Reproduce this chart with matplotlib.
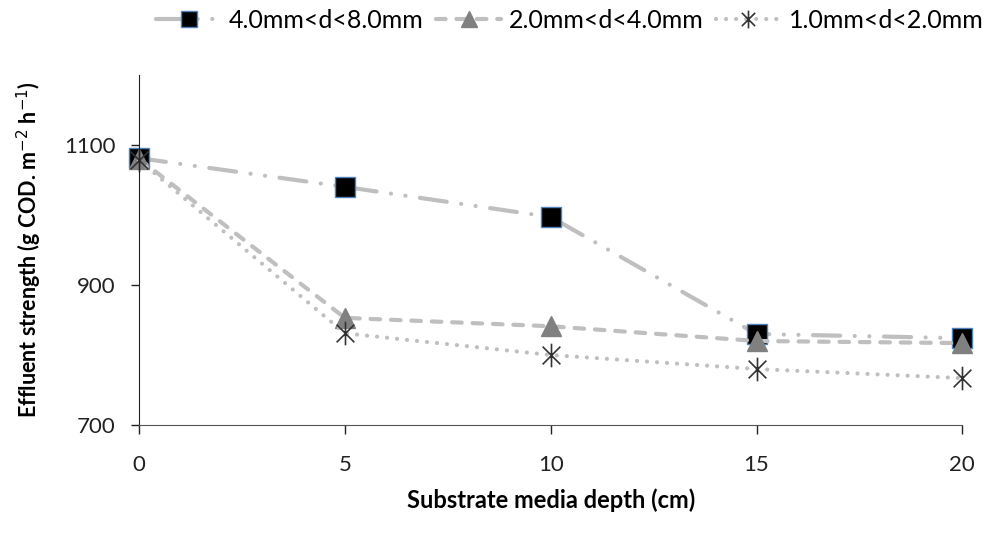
import matplotlib
matplotlib.use('Agg')
import matplotlib.pyplot as plt
from matplotlib.path import Path

plt.rcParams['font.family'] = ['Lato', 'DejaVu Sans']

# data
depth = [0, 5, 10, 15, 20]
coarse = [1081, 1040, 997, 830, 824]   # 4.0mm<d<8.0mm
medium = [1080, 853, 841, 820, 817]    # 2.0mm<d<4.0mm
fine = [1078, 831, 800, 780, 767]      # 1.0mm<d<2.0mm
labels = ['4.0mm<d<8.0mm', '2.0mm<d<4.0mm', '1.0mm<d<2.0mm']

# asterisk marker: vertical bar + X
star = Path([(0, -1), (0, 1), (-0.75, -0.75), (0.75, 0.75), (-0.75, 0.75), (0.75, -0.75)],
            [Path.MOVETO, Path.LINETO, Path.MOVETO, Path.LINETO, Path.MOVETO, Path.LINETO])

lc = '#bfbfbf'
fig = plt.figure(figsize=(9.86, 5.34), dpi=100)
ax = fig.add_axes([0.141, 0.204, 0.835, 0.656])

ax.plot(depth, coarse, color=lc, lw=3, linestyle=(0, (6.5, 3.5, 0.01, 3.5, 0.01, 3.5)),
        dash_capstyle='round', marker='s', markersize=15, markerfacecolor='black',
        markeredgecolor='#4f81bd', markeredgewidth=1, label=labels[0])
ax.plot(depth, medium, color=lc, lw=3, linestyle=(0, (2.3, 2.6)),
        dash_capstyle='round', marker='^', markersize=15, markerfacecolor='#808080',
        markeredgecolor='#808080', label=labels[1])
ax.plot(depth, fine, color=lc, lw=3, linestyle=(0, (0.01, 2.4)),
        dash_capstyle='round', marker=star, markersize=17, markerfacecolor='none',
        markeredgecolor='#333333', markeredgewidth=1.2, label=labels[2])

ax.set_xlim(0, 20)
ax.set_ylim(700, 1200)
ax.set_xticks([0, 5, 10, 15, 20])
ax.set_yticks([700, 900, 1100])
ax.spines['top'].set_visible(False)
ax.spines['right'].set_visible(False)
ax.spines['left'].set_color('#222222')
ax.spines['bottom'].set_color('#555555')
ax.tick_params(axis='both', labelsize=16, colors='#222222', width=1)
ax.tick_params(axis='x', length=6.5, pad=15)
ax.tick_params(axis='y', length=6, pad=11)
for l in ax.lines:
    l.set_clip_on(False)

ax.set_xlabel('Substrate media depth (cm)', fontsize=17, fontweight='bold', labelpad=10)
ax.set_ylabel('Effluent strength (g COD. m$^{-2}$ h$^{-1}$)', fontsize=15.5,
              fontweight='bold', labelpad=14)

leg = fig.legend(loc='upper right', bbox_to_anchor=(1.02, 1.025), ncol=3, frameon=False,
                 fontsize=18, handlelength=2.6, columnspacing=0.5, handletextpad=0.3,
                 markerscale=0.75)

fig.savefig('out.png', dpi=100)
